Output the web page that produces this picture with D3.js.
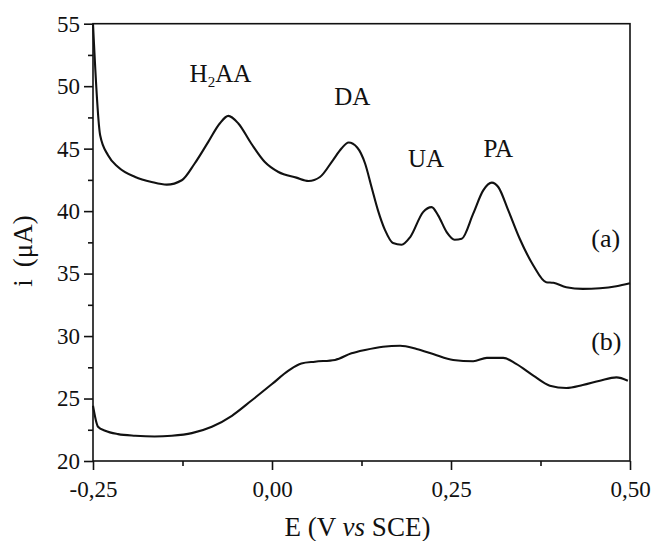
<!DOCTYPE html>
<html>
<head>
<meta charset="utf-8">
<script src="https://cdn.jsdelivr.net/npm/d3@7"></script>
<style>
  html, body { margin: 0; padding: 0; background: #fff; }
  svg, svg text { font-family: "Liberation Serif", "Times New Roman", Times, serif !important; }
  svg { display: block; }
</style>
</head>
<body>
<svg id="chart" width="654" height="541"></svg>
<script>
// ---- data ----
const potentialA = [-0.250,-0.240,-0.229,-0.215,-0.191,-0.168,-0.147,-0.126,-0.108,-0.089,-0.073,-0.061,-0.047,-0.029,-0.010,0.009,0.034,0.051,0.067,0.085,0.097,0.107,0.119,0.130,0.139,0.148,0.158,0.169,0.181,0.193,0.211,0.223,0.232,0.244,0.255,0.265,0.281,0.295,0.307,0.316,0.330,0.346,0.365,0.383,0.393,0.411,0.434,0.458,0.481,0.500];
const currentA   = [55.0,46.07,44.47,43.53,42.73,42.33,42.12,42.47,43.81,45.54,47.01,47.62,47.01,45.41,43.93,43.13,42.68,42.41,42.73,44.07,45.01,45.49,45.09,43.81,41.93,40.06,38.46,37.44,37.31,37.92,39.92,40.32,39.66,38.32,37.71,37.79,39.80,41.66,42.28,41.93,40.06,37.79,35.65,34.31,34.26,33.91,33.78,33.83,33.99,34.23];
const potentialB = [-0.250,-0.243,-0.233,-0.215,-0.191,-0.164,-0.140,-0.112,-0.084,-0.056,-0.029,0.000,0.023,0.041,0.060,0.088,0.111,0.130,0.155,0.179,0.202,0.225,0.253,0.281,0.300,0.323,0.341,0.365,0.388,0.411,0.434,0.458,0.481,0.497];
const currentB   = [24.42,22.74,22.42,22.15,22.02,21.96,22.02,22.23,22.74,23.62,24.82,26.16,27.23,27.81,27.95,28.09,28.62,28.89,29.15,29.23,28.97,28.57,28.09,27.98,28.25,28.25,27.77,26.83,26.03,25.84,26.08,26.43,26.69,26.43];
const xTicks = [-0.25, 0.00, 0.25, 0.50];
const xTickLabels = ["-0,25", "0,00", "0,25", "0,50"];
const xMinorTicks = [-0.125, 0.125, 0.375];
const yTicks = [20, 25, 30, 35, 40, 45, 50, 55];
const yMinorTicks = [22.5, 27.5, 32.5, 37.5, 42.5, 47.5, 52.5];
const peakNames = ["H2AA", "DA", "UA", "PA"];
const peakPotentials = [-0.072, 0.112, 0.215, 0.316];
const peakCurrents = [50.3, 48.5, 43.5, 44.3];
const curveNames = ["(a)", "(b)"];
const curveLabelPotentials = [0.466, 0.467];
const curveLabelCurrents = [37.1, 28.9];

// ---- layout ----
const margin = { top: 23.7, right: 24, bottom: 80, left: 93 };
const W = 654, H = 541;
const iw = W - margin.left - margin.right;
const ih = H - margin.top - margin.bottom;
const ink = "#111";
const serif = "'Liberation Serif', 'Times New Roman', Times, serif";

const svg = d3.select("#chart");
const g = svg.append("g").attr("transform", `translate(${margin.left},${margin.top})`);

const x = d3.scaleLinear().domain([-0.25, 0.5]).range([0, iw]);
const y = d3.scaleLinear().domain([20, 55]).range([ih, 0]);

// frame
g.append("rect").attr("x", 0).attr("y", 0).attr("width", iw).attr("height", ih)
  .attr("fill", "none").attr("stroke", ink).attr("stroke-width", 1.6);

function styleAxis(sel) {
  sel.attr("font-family", serif);
  sel.select(".domain").remove();
  sel.selectAll("line").attr("stroke", ink).attr("stroke-width", 1.6);
  sel.selectAll("text").attr("font-size", 23).attr("fill", ink).attr("font-family", serif);
}

// x axis
g.append("g").attr("transform", `translate(0,${ih})`)
  .call(d3.axisBottom(x).tickValues(xTicks).tickSize(9).tickPadding(11)
    .tickFormat((d, i) => xTickLabels[i]))
  .call(styleAxis);
g.append("g").attr("transform", `translate(0,${ih})`)
  .call(d3.axisBottom(x).tickValues(xMinorTicks).tickSize(5).tickFormat(""))
  .call(styleAxis);

// y axis
g.append("g")
  .call(d3.axisLeft(y).tickValues(yTicks).tickSize(9).tickPadding(4).tickFormat(d3.format("d")))
  .call(styleAxis);
g.append("g")
  .call(d3.axisLeft(y).tickValues(yMinorTicks).tickSize(5).tickFormat(""))
  .call(styleAxis);

// curves
const line = d3.line().x(d => x(d[0])).y(d => y(d[1])).curve(d3.curveMonotoneX);
const dataA = potentialA.map((v, i) => [v, currentA[i]]);
const dataB = potentialB.map((v, i) => [v, currentB[i]]);
[dataA, dataB].forEach(d => {
  g.append("path").datum(d).attr("d", line)
    .attr("fill", "none").attr("stroke", ink).attr("stroke-width", 2.1)
    .attr("stroke-linejoin", "round");
});

// peak labels
peakNames.forEach((name, i) => {
  const t = g.append("text")
    .attr("x", x(peakPotentials[i])).attr("y", y(peakCurrents[i]))
    .attr("text-anchor", "middle").attr("font-size", 25).attr("fill", ink)
    .attr("font-family", serif);
  if (name === "H2AA") {
    t.append("tspan").text("H");
    t.append("tspan").attr("font-size", 15).attr("dy", 5).text("2");
    t.append("tspan").attr("dy", -5).text("AA");
  } else {
    t.text(name);
  }
});

// curve labels
curveNames.forEach((name, i) => {
  g.append("text")
    .attr("x", x(curveLabelPotentials[i])).attr("y", y(curveLabelCurrents[i]))
    .attr("text-anchor", "middle").attr("font-size", 26).attr("fill", ink)
    .attr("font-family", serif).text(name);
});

// axis titles
const xt = svg.append("text")
  .attr("x", margin.left + iw / 2 - 4).attr("y", 536)
  .attr("text-anchor", "middle").attr("font-size", 27).attr("fill", ink)
  .attr("font-family", serif);
xt.append("tspan").text("E (V ");
xt.append("tspan").attr("font-style", "italic").text("vs");
xt.append("tspan").text(" SCE)");

const yt = svg.append("text")
  .attr("transform", `translate(32,251) rotate(-90)`)
  .attr("text-anchor", "middle").attr("font-size", 27).attr("fill", ink)
  .attr("font-family", serif);
yt.append("tspan").text("i");
yt.append("tspan").attr("dx", 12).text("(μA)");
</script>
</body>
</html>
